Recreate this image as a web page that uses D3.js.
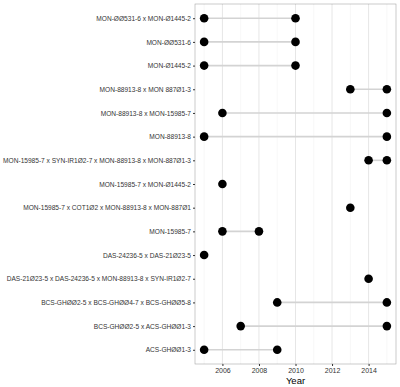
<!DOCTYPE html>
<html>
<head>
<meta charset="utf-8">
<script src="https://cdn.jsdelivr.net/npm/d3@7"></script>
<style>
  body { margin: 0; background: #fff; }
  text { font-family: "Liberation Sans", Arial, sans-serif; }
</style>
</head>
<body>
<svg id="chart"></svg>
<script>
const events = [
    'MON-ØØ531-6 x MON-Ø1445-2',
    'MON-ØØ531-6',
    'MON-Ø1445-2',
    'MON-88913-8 x MON 887Ø1-3',
    'MON-88913-8 x MON-15985-7',
    'MON-88913-8',
    'MON-15985-7 x SYN-IR1Ø2-7 x MON-88913-8 x MON-887Ø1-3',
    'MON-15985-7 x MON-Ø1445-2',
    'MON-15985-7 x COT1Ø2 x MON-88913-8 x MON-887Ø1',
    'MON-15985-7',
    'DAS-24236-5 x DAS-21Ø23-5',
    'DAS-21Ø23-5 x DAS-24236-5 x MON-88913-8 x SYN-IR1Ø2-7',
    'BCS-GHØØ2-5 x BCS-GHØØ4-7 x BCS-GHØØ5-8',
    'BCS-GHØØ2-5 x ACS-GHØØ1-3',
    'ACS-GHØØ1-3'
];
const firstYear = [2005, 2005, 2005, 2013, 2006, 2005, 2014, 2006, 2013, 2006, 2005, 2014, 2009, 2007, 2005];
const lastYear  = [2010, 2010, 2010, 2015, 2015, 2015, 2015, 2006, 2013, 2008, 2005, 2014, 2015, 2015, 2009];
const xTicks = [2006, 2008, 2010, 2012, 2014];
const xMinor = [2005, 2007, 2009, 2011, 2013, 2015];

const W = 400, H = 387;
const margin = { top: 4, right: 4, bottom: 23, left: 195 };
const width = W - margin.left - margin.right;
const height = H - margin.top - margin.bottom;

const svg = d3.select('#chart').attr('width', W).attr('height', H)
    .append('g').attr('transform', `translate(${margin.left},${margin.top})`);

const x = d3.scaleLinear().domain([2004.5, 2015.5]).range([0, width]);
const y = d3.scalePoint().domain(events).range([0, height]).padding(0.6);

// grid
svg.append('g').selectAll('line').data(xMinor).enter().append('line')
    .attr('x1', d => x(d)).attr('x2', d => x(d)).attr('y1', 0).attr('y2', height)
    .attr('stroke', '#f2f2f2').attr('stroke-width', 0.6);
svg.append('g').selectAll('line').data(xTicks).enter().append('line')
    .attr('x1', d => x(d)).attr('x2', d => x(d)).attr('y1', 0).attr('y2', height)
    .attr('stroke', '#e6e6e6').attr('stroke-width', 1);

const rows = events.map((e, i) => ({ name: e, a: firstYear[i], b: lastYear[i] }));

// segments
svg.append('g').selectAll('line').data(rows).enter().append('line')
    .attr('x1', d => x(d.a)).attr('x2', d => x(d.b))
    .attr('y1', d => y(d.name)).attr('y2', d => y(d.name))
    .attr('stroke', '#d3d3d3').attr('stroke-width', 1.6);

// points
const pts = [];
rows.forEach(d => { pts.push({ name: d.name, v: d.a }); if (d.b !== d.a) pts.push({ name: d.name, v: d.b }); });
svg.append('g').selectAll('circle').data(pts).enter().append('circle')
    .attr('cx', d => x(d.v)).attr('cy', d => y(d.name)).attr('r', 4.3).attr('fill', '#000');

// panel border
svg.append('rect').attr('width', width).attr('height', height)
    .attr('fill', 'none').attr('stroke', '#333').attr('stroke-width', 0.5).attr('stroke-opacity', 0.5);

// axes
const yAxis = svg.append('g').call(d3.axisLeft(y).tickSize(2).tickPadding(2));
yAxis.select('.domain').remove();
yAxis.selectAll('line').attr('stroke', '#333');
const yLabels = yAxis.selectAll('text').attr('font-size', '7px').attr('fill', '#333')
    .style('font-family', '"Liberation Sans", Arial, sans-serif');
// shrink labels so the longest one fits in the left margin
const maxLen = d3.max(yLabels.nodes(), n => n.getComputedTextLength());
yLabels.attr('font-size', (7 * 188 / maxLen) + 'px');

const xAxis = svg.append('g').attr('transform', `translate(0,${height})`)
    .call(d3.axisBottom(x).tickValues(xTicks).tickFormat(d3.format('d')).tickSize(2).tickPadding(2));
xAxis.select('.domain').remove();
xAxis.selectAll('line').attr('stroke', '#333');
xAxis.selectAll('text').attr('font-size', '7px').attr('fill', '#333').style('font-family', '"Liberation Sans", Arial, sans-serif');

svg.append('text').attr('x', width / 2).attr('y', height + 20)
    .attr('text-anchor', 'middle').attr('font-size', '9.5px').attr('fill', '#000').text('Year');
</script>
</body>
</html>
